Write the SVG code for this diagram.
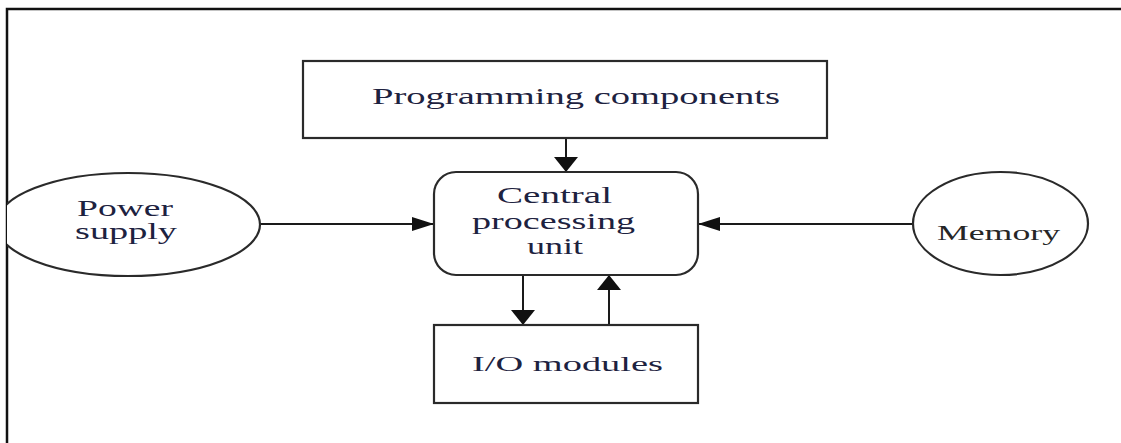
<svg xmlns="http://www.w3.org/2000/svg" width="1121" height="443" viewBox="0 0 1121 443">
  <style>
    .shape { fill: #ffffff; stroke: #2a2a2a; stroke-width: 2.2; }
    .conn { fill: none; stroke: #1a1a1a; stroke-width: 2; }
    .lbl { font-family: "Liberation Serif", "Times New Roman", serif; fill: #1d2240; }
    .frame { fill: none; stroke: #111111; stroke-width: 2.5; }
  </style>
  <defs>
    <marker id="ah" markerUnits="userSpaceOnUse" markerWidth="22" markerHeight="14" refX="22" refY="7" orient="auto">
      <path d="M0,0 L22,7 L0,14 z" fill="#111111"/>
    </marker>
    <marker id="av" markerUnits="userSpaceOnUse" markerWidth="15" markerHeight="24" refX="15" refY="12" orient="auto">
      <path d="M0,0 L15,12 L0,24 z" fill="#111111"/>
    </marker>
    <clipPath id="inside">
      <rect x="7" y="0" width="1114" height="443"/>
    </clipPath>
  </defs>

  <rect x="0" y="0" width="1121" height="443" fill="#ffffff"/>
  <path class="frame" d="M7,443 L7,9 L1121,9"/>

  <g id="connectors">
    <line class="conn" x1="260" y1="224" x2="434" y2="224" marker-end="url(#ah)"/>
    <line class="conn" x1="913" y1="224" x2="698" y2="224" marker-end="url(#ah)"/>
    <line class="conn" x1="566" y1="138" x2="566" y2="172" marker-end="url(#av)"/>
    <line class="conn" x1="523" y1="275" x2="523" y2="325" marker-end="url(#av)"/>
    <line class="conn" x1="609" y1="325" x2="609" y2="275" marker-end="url(#av)"/>
  </g>

  <g id="programming">
    <rect class="shape" x="303" y="61" width="524" height="77"/>
    <text class="lbl" x="372" y="104" font-size="23" textLength="408" lengthAdjust="spacingAndGlyphs">Programming components</text>
  </g>

  <g id="power">
    <ellipse class="shape" cx="128" cy="224.5" rx="132" ry="51.5" clip-path="url(#inside)"/>
    <text class="lbl" x="77" y="216" font-size="23" textLength="96" lengthAdjust="spacingAndGlyphs">Power</text>
    <text class="lbl" x="75" y="239" font-size="23" textLength="102" lengthAdjust="spacingAndGlyphs">supply</text>
  </g>

  <g id="cpu">
    <rect class="shape" x="434" y="172" width="264" height="103" rx="22" ry="22"/>
    <text class="lbl" x="497" y="203" font-size="23" textLength="115" lengthAdjust="spacingAndGlyphs">Central</text>
    <text class="lbl" x="472" y="229" font-size="23" textLength="163" lengthAdjust="spacingAndGlyphs">processing</text>
    <text class="lbl" x="527" y="254" font-size="23" textLength="56" lengthAdjust="spacingAndGlyphs">unit</text>
  </g>

  <g id="memory">
    <ellipse class="shape" cx="1000.5" cy="223.5" rx="87.5" ry="51.5"/>
    <text class="lbl" x="937" y="240" font-size="21" textLength="123" lengthAdjust="spacingAndGlyphs" style="fill:#262626">Memory</text>
  </g>

  <g id="io">
    <rect class="shape" x="434" y="325" width="264" height="78"/>
    <text class="lbl" x="472" y="371" font-size="21" textLength="191" lengthAdjust="spacingAndGlyphs">I/O modules</text>
  </g>
</svg>
